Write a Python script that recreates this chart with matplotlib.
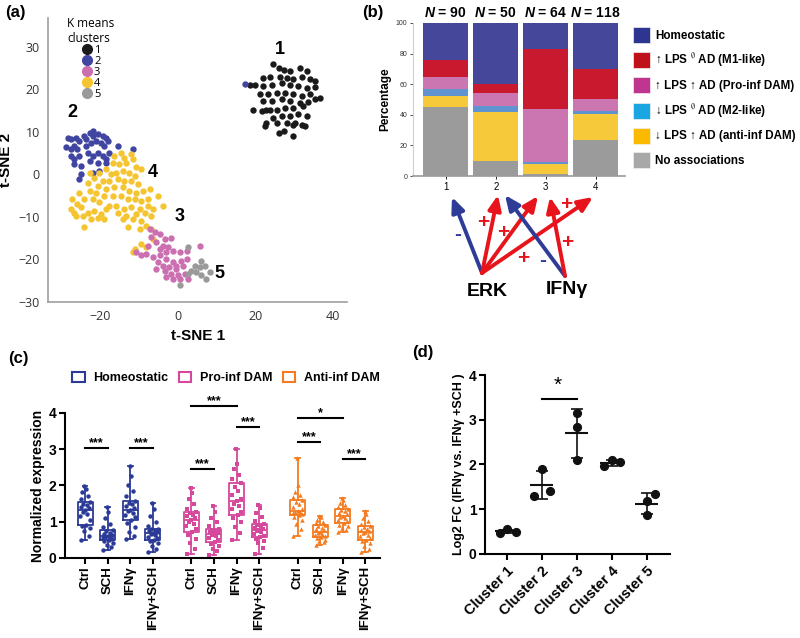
import numpy as np
import matplotlib
matplotlib.use("Agg")
import matplotlib.pyplot as plt
from matplotlib.lines import Line2D
from matplotlib.patches import Patch

plt.rcParams["font.family"] = ["Liberation Sans", "DejaVu Sans"]
plt.rcParams["mathtext.fontset"] = "custom"
plt.rcParams["mathtext.it"] = "Liberation Sans:italic:bold"
plt.rcParams["mathtext.rm"] = "Liberation Sans:bold"

# ---------------- (a) t-SNE, K means clusters ----------------
cluster_ids = ["1", "2", "3", "4", "5"]
cluster_colors = ["#1a1a1a", "#3f45a0", "#cc6fb0", "#f5c431", "#9a9a9a"]

tsne_c1 = [(24.6, 26.0), (25.9, 25.0), (27.2, 24.6), (28.9, 24.2), (31.5, 25.0), (33.2, 24.2),
           (22.0, 22.7), (23.7, 22.9), (26.3, 22.9), (28.0, 22.7), (29.7, 22.3), (31.9, 22.9),
           (34.1, 22.3), (35.3, 21.9), (19.8, 20.9), (22.0, 20.7), (24.1, 20.9), (26.7, 21.5),
           (28.9, 21.1), (31.0, 20.7), (33.2, 20.3), (35.3, 20.5), (21.1, 18.8), (23.3, 18.8),
           (25.4, 19.1), (27.6, 19.1), (29.7, 18.8), (31.9, 18.4), (34.1, 18.8), (22.0, 17.2),
           (24.1, 17.2), (26.7, 17.6), (28.9, 17.2), (31.5, 16.8), (33.6, 17.0), (35.3, 17.6),
           (22.8, 15.2), (25.4, 15.2), (27.6, 15.6), (29.7, 15.6), (32.3, 16.0), (21.6, 14.8),
           (24.6, 13.3), (26.7, 13.7), (28.9, 13.8), (31.0, 14.1), (33.2, 13.7), (22.8, 12.1),
           (25.4, 12.0), (28.0, 12.1), (30.2, 12.1), (31.9, 11.7), (22.4, 11.3), (27.2, 10.2),
           (29.7, 11.7), (25.9, 9.8), (29.7, 9.0), (32.8, 11.3), (19.4, 15.2), (23.7, 15.2),
           (36.5, 18.0), (18.5, 20.9)]
tsne_c2 = [(-28.4, 8.6), (-27.6, 8.2), (-26.3, 8.6), (-25.4, 7.8), (-24.1, 9.0), (-22.8, 9.8),
           (-22.0, 10.2), (-20.7, 9.4), (-19.4, 9.0), (-18.5, 8.6), (-28.9, 6.3), (-27.6, 5.9),
           (-26.7, 6.6), (-25.9, 5.9), (-23.7, 6.6), (-22.4, 7.4), (-21.1, 7.8), (-19.8, 7.4),
           (-19.0, 6.6), (-18.1, 7.8), (-27.6, 4.3), (-26.7, 3.5), (-25.4, 4.3), (-23.3, 5.1),
           (-22.0, 4.3), (-20.7, 5.1), (-19.4, 4.3), (-18.5, 3.5), (-26.7, 2.3), (-25.0, 2.0),
           (-22.8, 3.1), (-20.7, 2.7), (-18.5, 2.7), (-15.5, 6.6), (-11.6, 5.9), (-25.0, 0.0),
           (-22.0, 0.4), (-20.3, 0.8), (-25.4, -1.2), (-17.7, 5.1), (-23.7, 8.2), (-22.0, 9.0),
           (17.2, 21.3)]
tsne_c3 = [(-7.3, -12.9), (-6.0, -13.7), (-6.9, -14.8), (-4.7, -14.1), (-3.4, -15.2), (-1.7, -15.1),
           (-5.6, -16.0), (-3.9, -16.8), (-2.6, -17.2), (-4.7, -17.6), (-3.0, -18.4), (-1.3, -18.0),
           (0.4, -18.4), (-10.8, -18.4), (-9.5, -19.1), (-8.2, -18.8), (-6.5, -19.5), (-4.7, -19.1),
           (-3.0, -19.9), (-1.3, -20.7), (0.9, -20.3), (2.2, -19.9), (-5.2, -20.7), (-3.9, -21.5),
           (-2.2, -21.9), (-0.4, -22.3), (1.3, -21.5), (-5.6, -22.3), (-3.4, -22.7), (-1.7, -23.4),
           (0.0, -23.8), (1.7, -23.4), (-3.0, -24.2), (-1.3, -24.6), (0.4, -24.6), (5.6, -16.8),
           (2.6, -24.6), (-0.4, -21.5), (-7.8, -16.8), (2.2, -18.0)]
tsne_c4 = [(-16.4, 4.3), (-14.7, 5.1), (-13.8, 3.9), (-16.8, 2.7), (-15.1, 2.3), (-13.4, 2.7),
           (-11.6, 3.5), (-10.8, 1.6), (-9.5, 1.2), (-12.1, 4.7), (-18.5, 1.2), (-17.2, 0.0),
           (-15.9, 0.4), (-14.2, 0.8), (-12.5, 0.4), (-11.2, -0.4), (-20.3, 0.4), (-22.8, 0.4),
           (-21.6, -0.8), (-23.3, -2.0), (-19.4, -1.6), (-17.7, -1.6), (-15.5, -1.2), (-13.8, -1.6),
           (-12.1, -1.6), (-10.3, -2.3), (-20.7, -2.7), (-18.5, -3.5), (-16.4, -3.1), (-14.2, -3.1),
           (-12.5, -3.9), (-10.8, -4.3), (-9.1, -3.9), (-7.3, -3.5), (-25.4, -4.3), (-22.8, -3.9),
           (-21.1, -4.3), (-19.0, -5.1), (-16.8, -5.1), (-14.7, -5.1), (-12.9, -5.9), (-11.2, -5.9),
           (-9.5, -6.3), (-7.8, -5.9), (-5.2, -5.1), (-27.2, -5.9), (-25.9, -7.0), (-24.1, -5.9),
           (-22.0, -5.9), (-20.3, -6.6), (-17.7, -7.4), (-15.9, -7.4), (-13.8, -8.2), (-12.1, -7.8),
           (-9.9, -8.2), (-7.8, -7.4), (-6.5, -8.2), (-3.9, -7.4), (-27.6, -8.2), (-26.7, -9.0),
           (-25.0, -7.8), (-23.3, -9.0), (-21.6, -8.6), (-19.8, -9.4), (-18.5, -8.2), (-15.5, -9.0),
           (-13.4, -9.8), (-10.8, -9.4), (-8.6, -9.0), (-6.9, -9.8), (-24.6, -9.8), (-22.4, -10.5),
           (-20.7, -10.2), (-19.0, -10.5), (-14.2, -10.5), (-11.6, -10.5), (-9.5, -10.9), (-8.2, -12.1),
           (-12.9, -12.5), (-9.9, -12.9), (-26.3, -9.8), (-24.1, -12.5), (-6.9, -12.9), (-6.5, -15.2),
           (-9.5, -16.4), (-8.2, -17.2), (-11.2, -17.6), (-11.6, -18.4)]
tsne_c5 = [(2.6, -17.2), (6.0, -20.3), (4.3, -21.5), (5.6, -21.9), (6.9, -21.5), (3.4, -22.7),
           (4.7, -23.0), (6.0, -23.8), (8.2, -23.0), (7.3, -24.6), (0.4, -26.0), (2.6, -23.4)]
cluster_label_xy = [(26.3, 29.3), (-27.1, 14.5), (0.5, -10.0), (-6.5, 0.5), (10.8, -23.4)]

# ---------------- (b) composition of clusters ----------------
bar_clusters = ["1", "2", "3", "4"]
bar_n = [90, 50, 64, 118]
no_assoc = [45.3, 9.6, 1.3, 23.4]
anti_inf = [7.0, 32.4, 6.4, 17.1]
m2_like = [4.4, 4.0, 1.3, 2.3]
pro_inf = [7.9, 8.0, 34.8, 7.7]
m1_like = [11.2, 6.2, 39.1, 19.7]
homeostatic = [24.3, 39.8, 17.1, 29.5]
stack_colors = ["#9b9b9b", "#f6c93a", "#5f94d0", "#cb76b0", "#c8192f", "#45479a"]
legend_b_labels = ["Homeostatic",
                   "\u2191 LPS $^{\\emptyset}$ AD (M1-like)",
                   "\u2191 LPS \u2191 AD (Pro-inf DAM)",
                   "\u2193 LPS $^{\\emptyset}$ AD (M2-like)",
                   "\u2193 LPS \u2191 AD (anti-inf DAM)",
                   "No associations"]
legend_b_colors = ["#2e3591", "#c0101a", "#c03590", "#1aa6e0", "#fbb900", "#a8a8a8"]

# ---------------- (c) normalized expression ----------------
conditions = ["Ctrl", "SCH", "IFN\u03b3", "IFN\u03b3+SCH"]
groups = ["Homeostatic", "Pro-inf DAM", "Anti-inf DAM"]
group_colors = ["#2b3a97", "#d6489c", "#f47b20"]
group_markers = ["o", "s", "^"]
expr = {
    "Homeostatic": [
        [0.50, 0.62, 0.75, 0.82, 0.88, 0.92, 1.05, 1.15, 1.22, 1.28, 1.33, 1.38, 1.42, 1.46, 1.50, 1.54, 1.62, 1.72, 1.82, 1.90, 1.99],
        [0.23, 0.30, 0.36, 0.42, 0.46, 0.50, 0.53, 0.55, 0.57, 0.59, 0.61, 0.63, 0.66, 0.70, 0.74, 0.78, 0.85, 0.95, 1.10, 1.28, 1.40],
        [0.52, 0.60, 0.72, 0.85, 0.96, 1.05, 1.12, 1.18, 1.24, 1.29, 1.33, 1.38, 1.43, 1.48, 1.53, 1.58, 1.70, 1.85, 2.02, 2.25, 2.55],
        [0.16, 0.25, 0.33, 0.40, 0.46, 0.50, 0.55, 0.59, 0.63, 0.66, 0.69, 0.71, 0.74, 0.76, 0.79, 0.81, 0.88, 0.98, 1.15, 1.35, 1.51],
    ],
    "Pro-inf DAM": [
        [0.12, 0.25, 0.40, 0.52, 0.63, 0.71, 0.80, 0.88, 0.95, 1.00, 1.05, 1.10, 1.15, 1.19, 1.23, 1.26, 1.35, 1.48, 1.62, 1.80, 1.93],
        [0.09, 0.18, 0.26, 0.33, 0.39, 0.44, 0.50, 0.55, 0.60, 0.64, 0.67, 0.70, 0.73, 0.75, 0.78, 0.80, 0.88, 0.98, 1.10, 1.28, 1.44],
        [0.50, 0.68, 0.85, 0.98, 1.10, 1.19, 1.28, 1.36, 1.44, 1.50, 1.56, 1.64, 1.75, 1.86, 1.97, 2.08, 2.18, 2.30, 2.45, 2.60, 3.00],
        [0.12, 0.28, 0.40, 0.47, 0.53, 0.57, 0.62, 0.67, 0.71, 0.75, 0.78, 0.81, 0.84, 0.87, 0.91, 0.94, 1.02, 1.12, 1.25, 1.38, 1.47],
    ],
    "Anti-inf DAM": [
        [0.61, 0.80, 0.95, 1.05, 1.13, 1.19, 1.21, 1.24, 1.26, 1.28, 1.30, 1.35, 1.42, 1.48, 1.55, 1.61, 1.68, 1.75, 1.82, 2.00, 2.77],
        [0.37, 0.43, 0.48, 0.51, 0.54, 0.57, 0.61, 0.64, 0.67, 0.70, 0.73, 0.76, 0.80, 0.84, 0.88, 0.92, 0.96, 1.00, 1.05, 1.12, 1.17],
        [0.71, 0.76, 0.82, 0.87, 0.92, 0.96, 1.01, 1.06, 1.10, 1.14, 1.17, 1.21, 1.25, 1.29, 1.33, 1.36, 1.41, 1.47, 1.53, 1.60, 1.65],
        [0.16, 0.25, 0.33, 0.40, 0.46, 0.50, 0.55, 0.60, 0.64, 0.68, 0.71, 0.74, 0.77, 0.80, 0.85, 0.89, 0.95, 1.02, 1.10, 1.20, 1.30],
    ],
}
# (group, condition a, condition b, height, label)
sig_c = [(0, 0, 1, 3.03, "***"), (0, 2, 3, 3.03, "***"),
         (1, 0, 1, 2.45, "***"), (1, 0, 2, 4.20, "***"), (1, 2, 3, 3.60, "***"),
         (2, 0, 1, 3.21, "***"), (2, 0, 2, 3.85, "*"), (2, 2, 3, 2.73, "***")]

# ---------------- (d) log2 FC per cluster ----------------
fc_clusters = ["Cluster 1", "Cluster 2", "Cluster 3", "Cluster 4", "Cluster 5"]
fc_values = [[0.48, 0.55, 0.49],
             [1.89, 1.30, 1.41],
             [3.15, 2.84, 2.09],
             [1.97, 2.09, 2.05],
             [0.86, 1.18, 1.33]]

fig = plt.figure(figsize=(8, 6.38), dpi=100)

# ===== panel (a) =====
ax_a = fig.add_axes([0.06, 0.527, 0.374, 0.445])
tsne_sets = [tsne_c1, tsne_c2, tsne_c3, tsne_c4, tsne_c5]
for idx in [0, 1, 3, 2, 4]:
    arr = np.array(tsne_sets[idx])
    ax_a.scatter(arr[:, 0], arr[:, 1], s=21, color=cluster_colors[idx], linewidths=0)
for name, (lx, ly) in zip(cluster_ids, cluster_label_xy):
    ax_a.text(lx, ly, name, fontsize=13, fontweight="bold", ha="center", va="center")
ax_a.set_xlim(-33.5, 43.6)
ax_a.set_ylim(-30, 36.8)
ax_a.set_xticks([-20, 0, 20, 40])
ax_a.set_yticks([-30, -20, -10, 0, 10, 20, 30])
for side in ["top", "right"]:
    ax_a.spines[side].set_visible(False)
for side in ["left", "bottom"]:
    ax_a.spines[side].set_color("#a0a0a0")
    ax_a.spines[side].set_linewidth(1.2)
ax_a.tick_params(length=0, labelsize=9, colors="#333333", pad=6)
for lab in ax_a.get_xticklabels() + ax_a.get_yticklabels():
    lab.set_fontfamily("Open Sans")
ax_a.set_xlabel("t-SNE 1", fontsize=11, fontweight="bold", labelpad=4)
ax_a.set_ylabel("t-SNE 2", fontsize=11, fontweight="bold", labelpad=4)
handles_a = [Line2D([], [], ls="", marker="o", markersize=7, markerfacecolor=c, markeredgecolor=c)
             for c in cluster_colors]
leg_a = ax_a.legend(handles_a, cluster_ids, title="K means\nclusters", loc="upper left",
                    bbox_to_anchor=(0.077, 0.982), bbox_transform=fig.transFigure, frameon=False,
                    prop={"family": "Open Sans", "size": 8}, handletextpad=0.15,
                    labelspacing=0.0, borderpad=0, handlelength=1.0, alignment="center")
leg_a.get_title().set_fontfamily("Open Sans")
leg_a.get_title().set_fontsize(8.5)

# ===== panel (b) =====
ax_b = fig.add_axes([0.516, 0.724, 0.265, 0.240])
xb = np.arange(len(bar_clusters))
bottom = np.zeros(len(bar_clusters))
for vals, col in zip([no_assoc, anti_inf, m2_like, pro_inf, m1_like, homeostatic], stack_colors):
    ax_b.bar(xb, vals, bottom=bottom, width=0.9, color=col, edgecolor="none")
    bottom += np.array(vals)
for i, n in enumerate(bar_n):
    ax_b.text(i, 106.5, f"$\\it{{N}}$ = {n}", ha="center", va="center", fontsize=10,
              fontweight="bold", clip_on=False)
ax_b.set_xlim(-0.66, 3.58)
ax_b.set_ylim(0, 100)
ax_b.set_xticks(xb)
ax_b.set_xticklabels(bar_clusters)
ax_b.set_yticks([0, 20, 40, 60, 80, 100])
ax_b.tick_params(axis="y", labelsize=5, length=2, width=0.6, pad=2, colors="#333333")
ax_b.tick_params(axis="x", labelsize=7, length=2, width=0.6, pad=2)
for side in ["top", "right"]:
    ax_b.spines[side].set_visible(False)
ax_b.spines["left"].set_color("#d0d0d0")
ax_b.spines["bottom"].set_color("#999999")
ax_b.spines["bottom"].set_linewidth(1.2)
ax_b.set_ylabel("Percentage", fontsize=8.5, fontweight="bold", labelpad=3)
handles_b = [Patch(facecolor=c, edgecolor="#f0f0f0", linewidth=0.5) for c in legend_b_colors]
ax_b.legend(handles_b, legend_b_labels, loc="upper left", bbox_to_anchor=(0.791, 0.958),
            bbox_transform=fig.transFigure, frameon=False, prop={"weight": "bold", "size": 8.4},
            handlelength=1.45, handleheight=1.75, handletextpad=0.45, labelspacing=0.69,
            borderpad=0, borderaxespad=0)

# ===== diagram under (b) =====
ax_ov = fig.add_axes([0, 0, 1, 1], zorder=-1)
ax_ov.set_xlim(0, 800)
ax_ov.set_ylim(638, 0)
ax_ov.axis("off")
arrow_blue, arrow_red = "#2e3b97", "#e8141c"
erk_xy, ifn_xy = (482, 273), (565, 276)
diagram_arrows = [(erk_xy, (452, 197), arrow_blue), (erk_xy, (498, 195), arrow_red),
                  (erk_xy, (538, 196), arrow_red), (erk_xy, (593, 197), arrow_red),
                  (ifn_xy, (505, 195), arrow_blue), (ifn_xy, (550, 197), arrow_red)]
for start, end, col in diagram_arrows:
    ax_ov.annotate("", xy=end, xytext=start,
                   arrowprops=dict(arrowstyle="-|>,head_length=0.8,head_width=0.35", lw=2.8,
                                   color=col, mutation_scale=11, shrinkA=0, shrinkB=0))
diagram_signs = [((458, 235), "-", arrow_blue), ((483, 222), "+", arrow_red),
                 ((503, 232), "+", arrow_red), ((523, 258), "+", arrow_red),
                 ((543, 261), "-", arrow_blue), ((567, 243), "+", arrow_red),
                 ((566, 205), "+", arrow_red)]
for (sx, sy), sign, col in diagram_signs:
    ax_ov.text(sx, sy, sign, color=col, fontsize=15, fontweight="bold", ha="center", va="center")
ax_ov.text(487, 292, "ERK", fontsize=14, fontweight="bold", ha="center", va="center")
ax_ov.text(567, 290, "IFN\u03b3", fontsize=14, fontweight="bold", ha="center", va="center")

# ===== panel (c) =====
ax_c = fig.add_axes([0.081, 0.1254, 0.394, 0.2273])
group_starts = [0.0, 4.7, 9.4]
jitter = [-0.2, 0.15, -0.05, 0.22, -0.15, 0.05, 0.2, -0.22, 0.1, -0.1, 0.0,
          0.18, -0.18, 0.08, -0.08, 0.22, -0.2, 0.12, -0.12, 0.03, -0.03]
tick_pos, tick_lab = [], []
for g, (grp, col, mk) in enumerate(zip(groups, group_colors, group_markers)):
    pos = [group_starts[g] + k for k in range(len(conditions))]
    bp = ax_c.boxplot(expr[grp], positions=pos, widths=0.66, whis=(0, 100), showfliers=False,
                      manage_ticks=False)
    for key in ["boxes", "medians", "whiskers", "caps"]:
        for art in bp[key]:
            art.set_color(col)
            art.set_linewidth(1.3)
    for cap in bp["caps"]:
        xs = cap.get_xdata()
        mid = xs.mean()
        cap.set_xdata([mid - 0.1, mid + 0.1])
    for p, vals in zip(pos, expr[grp]):
        ax_c.plot(p + np.array(jitter[:len(vals)]), vals, ls="", marker=mk, ms=3.2,
                  color=col, markeredgewidth=0)
    tick_pos += pos
    tick_lab += conditions
for g, a, b, h, lab in sig_c:
    xa, xb_ = group_starts[g] + a, group_starts[g] + b
    ax_c.plot([xa, xb_], [h, h], color="black", lw=1.5, clip_on=False)
    ax_c.text((xa + xb_) / 2, h + 0.05, lab, ha="center", va="baseline", fontsize=9,
              fontweight="bold", clip_on=False)
ax_c.set_xlim(-0.9, 13.05)
ax_c.set_ylim(0, 4)
ax_c.set_yticks([0, 1, 2, 3, 4])
ax_c.set_xticks(tick_pos)
ax_c.set_xticklabels(tick_lab, rotation=90, fontsize=9.5, fontweight="bold")
ax_c.tick_params(axis="y", labelsize=10, width=1.5, length=4, pad=2)
ax_c.tick_params(axis="x", width=1.5, length=4, pad=2)
for lab in ax_c.get_yticklabels():
    lab.set_fontweight("bold")
for side in ["top", "right"]:
    ax_c.spines[side].set_visible(False)
for side in ["left", "bottom"]:
    ax_c.spines[side].set_linewidth(1.5)
ax_c.set_ylabel("Normalized expression", fontsize=10, fontweight="bold", labelpad=3)
handles_c = [Patch(facecolor="none", edgecolor=c, linewidth=1.5) for c in group_colors]
fig.legend(handles_c, groups, loc="center", bbox_to_anchor=(0.2825, 0.4075), ncol=3,
           frameon=False, prop={"weight": "bold", "size": 9}, handlelength=1.0,
           handleheight=0.8, handletextpad=0.7, columnspacing=0.8)

# ===== panel (d) =====
ax_d = fig.add_axes([0.606, 0.1317, 0.2315, 0.2805])
fc_offsets = [[-0.2, 0.0, 0.25], [0.0, -0.22, 0.23], [0.0, 0.0, 0.0],
              [-0.22, 0.0, 0.24], [0.0, 0.0, 0.24]]
for i, (vals, offs) in enumerate(zip(fc_values, fc_offsets)):
    vals = np.array(vals)
    ax_d.plot(i + np.array(offs), vals, "o", ms=5.6, color="#111111", zorder=3)
    mean, sd = vals.mean(), vals.std(ddof=1)
    ax_d.hlines(mean, i - 0.33, i + 0.33, color="#111111", lw=1.5)
    ax_d.errorbar(i, mean, yerr=sd, fmt="none", ecolor="#111111", elinewidth=1.2,
                  capsize=4.3, capthick=1.2)
ax_d.plot([1, 2], [3.47, 3.47], color="black", lw=1.5)
ax_d.text(1.46, 3.56, "*", ha="center", va="bottom", fontsize=15)
ax_d.set_xlim(-0.63, 4.66)
ax_d.set_ylim(0, 4)
ax_d.set_yticks([0, 1, 2, 3, 4])
ax_d.set_xticks(range(len(fc_clusters)))
ax_d.set_xticklabels(fc_clusters, rotation=45, ha="right", rotation_mode="anchor",
                     fontsize=10.5, fontweight="bold")
ax_d.tick_params(axis="y", labelsize=10, width=1.5, length=4, pad=2)
ax_d.tick_params(axis="x", width=1.5, length=4, pad=3)
for lab in ax_d.get_yticklabels():
    lab.set_fontweight("bold")
for side in ["top", "right"]:
    ax_d.spines[side].set_visible(False)
for side in ["left", "bottom"]:
    ax_d.spines[side].set_linewidth(1.5)
ax_d.set_ylabel("Log2 FC (IFN\u03b3 vs. IFN\u03b3 +SCH )", fontsize=9, fontweight="bold", labelpad=3)

# panel letters
for lx, ly, letter in [(5, 12, "(a)"), (362, 12, "(b)"), (8, 359, "(c)"), (412, 352, "(d)")]:
    fig.text(lx / 800, 1 - ly / 638, letter, fontsize=12, fontweight="bold", va="center")

fig.savefig("out.png", dpi=100)
